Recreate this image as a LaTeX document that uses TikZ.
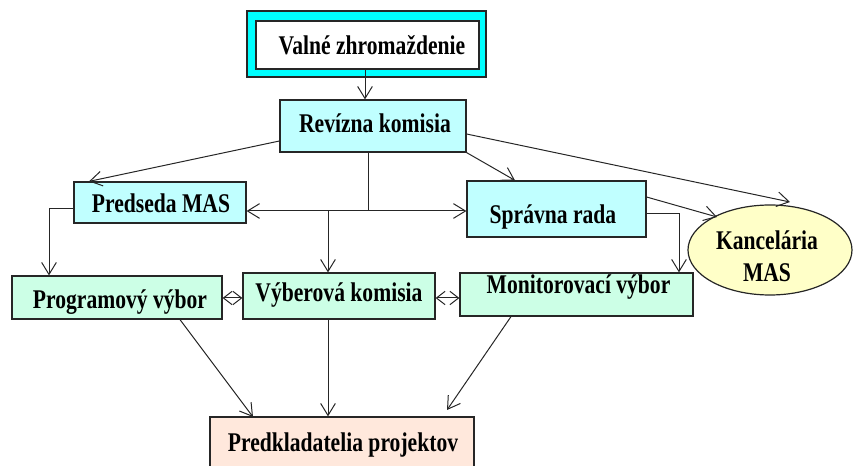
\documentclass[tikz,border=0pt]{standalone}
\usepackage{fontspec}
\setmainfont{Liberation Serif}[FakeStretch=0.8]
\usetikzlibrary{arrows.meta,shapes.geometric}
\definecolor{cyanfill}{HTML}{C0FFFF}
\definecolor{mintfill}{HTML}{CCFFE6}
\definecolor{peachfill}{HTML}{FFE8DC}
\definecolor{yellowfill}{HTML}{FFFFC8}
\definecolor{brightcyan}{HTML}{00FFFF}
\begin{document}
\begin{tikzpicture}[x=0.75pt,y=-0.75pt,
  box/.style={draw=black!85,line width=0.9pt,rectangle,inner sep=0pt},
  lbl/.style={inner sep=0pt,font=\fontsize{20.25}{23}\selectfont\bfseries,align=center},
  conn/.style={draw=black!85,line width=0.75pt},
  arr/.style={conn,-{Straight Barb[length=9pt,width=11pt,line width=0.75pt]}},
  darr/.style={conn,{Straight Barb[length=6.5pt,width=10pt,line width=0.75pt]}-{Straight Barb[length=6.5pt,width=10pt,line width=0.75pt]}}
]
\useasboundingbox (0,0) rectangle (857,466);
% boxes
\node[box,fill=brightcyan,minimum width=239*0.75pt,minimum height=66*0.75pt] (valneout) at (366.5,44) {};
\node[box,fill=white,minimum width=223*0.75pt,minimum height=48*0.75pt] (valne) at (367.5,45) {};
\node[lbl] (valnet) at (372,45) {Valné zhromaždenie};

\node[box,fill=cyanfill,minimum width=186*0.75pt,minimum height=52*0.75pt] (rev) at (373,126) {};
\node[lbl] (revt) at (375,123) {Revízna komisia};

\node[box,fill=cyanfill,minimum width=172*0.75pt,minimum height=41*0.75pt] (pred) at (160,202.5) {};
\node[lbl] (predt) at (161,203) {Predseda MAS};

\node[box,fill=cyanfill,minimum width=179*0.75pt,minimum height=56*0.75pt] (spr) at (556.5,209) {};
\node[lbl] (sprt) at (553,217) {Správna rada};

\node[draw=black!85,line width=0.9pt,ellipse,fill=yellowfill,minimum width=164*0.75pt,minimum height=90*0.75pt,inner sep=0pt] (kanc) at (770,250) {};
\node[lbl,font=\fontsize{20.25}{24}\selectfont\bfseries] (kanct) at (767,256) {Kancelária\\MAS};

\node[box,fill=mintfill,minimum width=210*0.75pt,minimum height=43*0.75pt] (prog) at (117,297.5) {};
\node[lbl] (progt) at (120,302) {Programový výbor};

\node[box,fill=mintfill,minimum width=192*0.75pt,minimum height=46*0.75pt] (vyb) at (339,296) {};
\node[lbl] (vybt) at (339,295) {Výberová komisia};

\node[box,fill=mintfill,minimum width=233*0.75pt,minimum height=43*0.75pt] (mon) at (576.5,294.5) {};
\node[lbl] (mont) at (578.5,287) {Monitorovací výbor};

\node[box,fill=peachfill,minimum width=264*0.75pt,minimum height=60*0.75pt] (pk) at (342,447) {};
\node[lbl] (pkt) at (343,445) {Predkladatelia projektov};

% connectors
\draw[arr] (valne.south -| 365,0) -- (rev.north -| 365,0);
\draw[arr] (rev.west |- 0,141) -- (pred.north -| 89,0);
\coordinate (j) at (368,211);
\coordinate (j2) at (328,211);
\draw[conn] (j |- rev.south) -- (j);
\draw[arr] (j) -- (pred.east |- j);
\draw[arr] (j) -- (spr.west |- j);
\draw[arr] (j2) -- (vyb.north -| j2);
\coordinate (pl) at (49,209);
\draw[arr] (pred.west |- pl) -- (pl) -- (prog.north -| pl);
\draw[arr] (rev.south east) -- (spr.north -| 515,0);
\coordinate (kt) at (790,202);
\draw[arr] (rev.east |- 0,134) -- (kt);
\coordinate (ks) at (717,217);
\draw[arr] (spr.east |- 0,197) -- (ks);
\coordinate (sm) at (679,214);
\draw[arr] (spr.east |- sm) -- (sm) -- (mon.north -| sm);
\coordinate (pk1) at (253,417);
\draw[arr] (prog.south -| 180,0) -- (pk1);
\draw[arr] (vyb.south -| 328,0) -- (pk.north -| 328,0);
\coordinate (pk3) at (447,410);
\draw[arr] (mon.south -| 511,0) -- (pk3);
\draw[darr] (prog.east |- 0,298) -- (vyb.west |- 0,298);
\draw[darr] (vyb.east |- 0,298) -- (mon.west |- 0,298);
\end{tikzpicture}
\end{document}
